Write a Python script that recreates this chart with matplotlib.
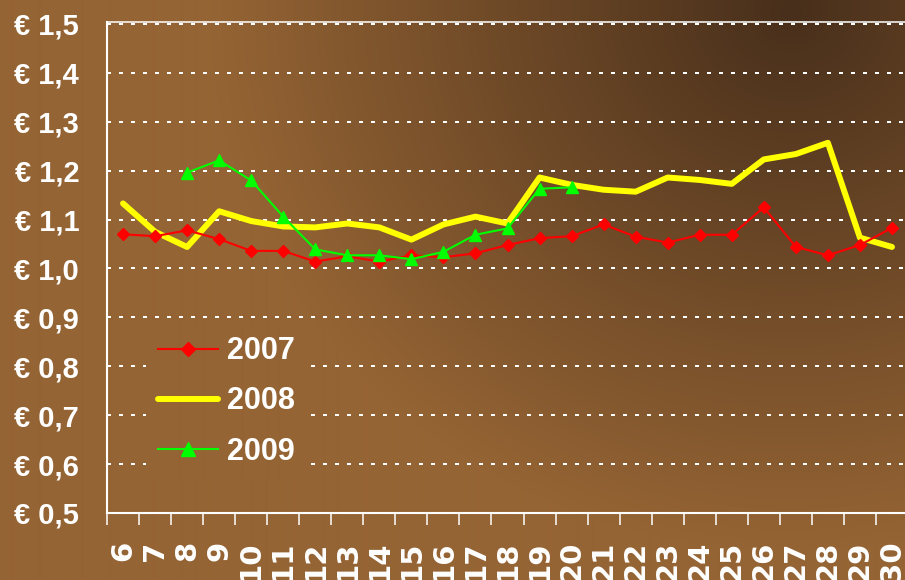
import numpy as np
import matplotlib
matplotlib.use('Agg')
import matplotlib.pyplot as plt

# ---------------- data ----------------
weeks = list(range(6, 31))
week_labels = [str(w) for w in weeks]

y2007 = [1.070, 1.066, 1.078, 1.060, 1.036, 1.036, 1.014, 1.025, 1.014, 1.027,
         1.023, 1.031, 1.048, 1.062, 1.066, 1.090, 1.065, 1.053, 1.069, 1.069,
         1.125, 1.044, 1.027, 1.048, 1.083]
y2008 = [1.133, 1.075, 1.044, 1.117, 1.097, 1.086, 1.084, 1.092, 1.084, 1.059,
         1.090, 1.106, 1.092, 1.186, 1.171, 1.161, 1.157, 1.186, 1.181, 1.173,
         1.223, 1.234, 1.257, 1.063, 1.044]
y2009 = [np.nan, np.nan, 1.196, 1.221, 1.180, 1.106, 1.039, 1.027, 1.027, 1.019,
         1.034, 1.069, 1.082, 1.163, 1.166, np.nan, np.nan, np.nan, np.nan, np.nan,
         np.nan, np.nan, np.nan, np.nan, np.nan]
series_names = ['2007', '2008', '2009']

ytick_vals = [0.5, 0.6, 0.7, 0.8, 0.9, 1.0, 1.1, 1.2, 1.3, 1.4, 1.5]
ytick_labels = ['€ 0,5', '€ 0,6', '€ 0,7', '€ 0,8', '€ 0,9', '€ 1,0',
                '€ 1,1', '€ 1,2', '€ 1,3', '€ 1,4', '€ 1,5']

# ---------------- figure ----------------
W, H = 905, 580
fig = plt.figure(figsize=(W / 100, H / 100), dpi=100)

# background gradient (dark toward top-right)
yy, xx = np.mgrid[0:H, 0:W]
t = np.sqrt(((xx - 790) / 580.0) ** 2 + ((yy - 10) / 540.0) ** 2)
t = np.clip(t, 0, 1)
dark = np.array([72, 47, 27]) / 255.0
light = np.array([149, 100, 52]) / 255.0
grad = dark + (light - dark) * t[..., None]

bg = fig.add_axes([0, 0, 1, 1], zorder=-10)
bg.imshow(grad, aspect='auto', extent=(0, 1, 0, 1), interpolation='bilinear')
bg.axis('off')

ax = fig.add_axes([107 / W, 67 / H, 801 / W, 491 / H])
ax.set_facecolor('none')

x = np.arange(len(weeks))
l08, = ax.plot(x, y2008, color='#FFFF00', lw=4.3, solid_capstyle='round',
               solid_joinstyle='round', zorder=2)
l07, = ax.plot(x, y2007, color='#FF0000', lw=1.5, marker='D', ms=6.5,
               mec='#FF0000', mfc='#FF0000', zorder=3)
l09, = ax.plot(x, y2009, color='#00FF00', lw=1.5, marker='^', ms=9,
               mec='#00FF00', mfc='#00FF00', zorder=4)

ax.set_xlim(-0.5, len(weeks) - 0.5)
ax.set_ylim(0.5, 1.504)

# y axis
ax.set_yticks(ytick_vals)
ax.set_yticklabels(ytick_labels, fontfamily='Liberation Sans', fontweight='bold',
                   fontsize=21, color='white')
ax.tick_params(axis='y', length=0, pad=20)

# x axis
ax.set_xticks(x)
ax.set_xticklabels(week_labels, rotation=90, fontfamily='DejaVu Sans',
                   fontweight='bold', fontsize=21, color='white')
ax.set_xticks(np.arange(-0.5, len(weeks), 1.0), minor=True)
ax.tick_params(axis='x', which='major', length=0, pad=20)
ax.tick_params(axis='x', which='minor', length=8.6, width=1.1, color='white',
               direction='out')

# grid
ax.set_axisbelow(True)
ax.grid(axis='y', color='white', linestyle=(0, (2, 4)), linewidth=1.44)
ax.grid(axis='x', visible=False)

for s in ['top', 'left', 'bottom']:
    ax.spines[s].set_color('white')
ax.spines['top'].set_linewidth(1.1)
ax.spines['left'].set_linewidth(1.5)
ax.spines['bottom'].set_linewidth(1.5)
ax.spines['right'].set_visible(False)

leg = ax.legend([l07, l08, l09], series_names, loc='upper left',
                bbox_to_anchor=(146 / W, 1 - 324 / H), bbox_transform=fig.transFigure,
                borderaxespad=0, borderpad=0.4, frameon=True, fancybox=False,
                handlelength=1.95, handletextpad=0.3, labelspacing=0.66,
                numpoints=1, markerscale=1.1,
                prop={'family': 'Liberation Sans', 'weight': 'bold', 'size': 22})
leg.get_frame().set_facecolor('none')
leg.get_frame().set_edgecolor('none')
for txt in leg.get_texts():
    txt.set_color('white')

# cover gridlines behind the legend with the same background gradient
cover = ax.imshow(grad, extent=(0, 1, 0, 1), transform=fig.transFigure,
                  aspect='auto', zorder=1, interpolation='bilinear')
ax.set_xlim(-0.5, len(weeks) - 0.5)
ax.set_ylim(0.5, 1.504)
cover.set_clip_path(leg.get_frame())

fig.canvas.draw()
fig.savefig('out.png', dpi=100)
